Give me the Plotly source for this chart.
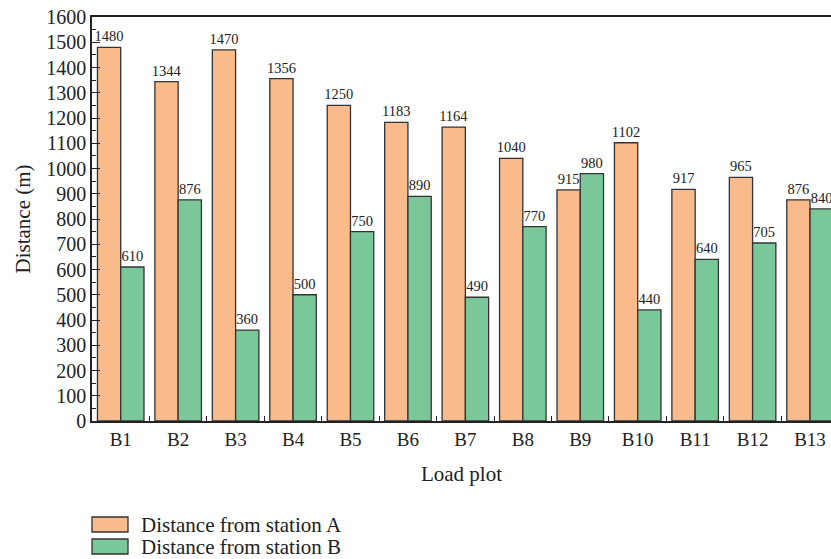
import plotly.graph_objects as go

categories = ["B1", "B2", "B3", "B4", "B5", "B6", "B7", "B8", "B9", "B10", "B11", "B12", "B13"]
station_a = [1480, 1344, 1470, 1356, 1250, 1183, 1164, 1040, 915, 1102, 917, 965, 876]
station_b = [610, 876, 360, 500, 750, 890, 490, 770, 980, 440, 640, 705, 840]
series_names = ["Distance from station A", "Distance from station B"]
colors = ["#F9BB8C", "#7AC89A"]
y_ticks = list(range(0, 1700, 100))

FONT = "Liberation Serif"
W, H = 831, 559
L, R, T, B = 92, 0, 17, 138
PW, PH = W - L - R, H - T - B


def px_x(x):
    return (x - L) / PW


def px_y(y):
    return 1 - (y - T) / PH


fig = go.Figure()
for name, vals, col in zip(series_names, [station_a, station_b], colors):
    fig.add_trace(go.Bar(
        x=categories, y=vals, name=name,
        marker=dict(color=col, line=dict(color="#333333", width=1.3)),
        text=[str(v) for v in vals], textposition="outside",
        constraintext="none",
        textfont=dict(family=FONT, size=14.5, color="#222222"),
        cliponaxis=False, showlegend=False,
    ))

fig.update_layout(
    width=W, height=H,
    margin=dict(l=L, r=R, t=T, b=B),
    paper_bgcolor="white", plot_bgcolor="white",
    barmode="group", bargap=0.19, bargroupgap=0,
    font=dict(family=FONT, size=19, color="#222222"),
    xaxis=dict(
        range=[-0.5, 12.365], showline=True, linecolor="#222222", linewidth=1.5,
        mirror=True, ticks="inside", tickson="boundaries", ticklen=5,
        tickcolor="#222222", showgrid=False,
        title=dict(text="Load plot", font=dict(family=FONT, size=21), standoff=18),
        tickfont=dict(family=FONT, size=19),
    ),
    yaxis=dict(
        range=[0, 1600], tickvals=y_ticks, showline=True, linecolor="#222222",
        linewidth=1.5, ticks="inside", ticklen=8, tickcolor="#222222",
        minor=dict(ticks="inside", ticklen=4, dtick=50, tickcolor="#222222"),
        showgrid=False, zeroline=False,
        title=dict(text="Distance (m)", font=dict(family=FONT, size=21), standoff=10),
        tickfont=dict(family=FONT, size=20),
    ),
)

# manual legend below the plot
legend_rows = [(517, 532), (539, 554)]
for (y0, y1), name, col in zip(legend_rows, series_names, colors):
    fig.add_shape(type="rect", xref="paper", yref="paper",
                  x0=px_x(92), x1=px_x(128), y0=px_y(y1), y1=px_y(y0),
                  fillcolor=col, line=dict(color="#333333", width=1.3))
    fig.add_annotation(xref="paper", yref="paper", x=px_x(139),
                       y=px_y((y0 + y1) / 2),
                       text=name, showarrow=False, xanchor="left", yanchor="middle",
                       font=dict(family=FONT, size=21, color="#222222"))

fig.write_html(
    "out.html",
    config={"displayModeBar": False},
    post_script="document.body.style.margin='0';document.body.style.overflow='hidden';",
)
